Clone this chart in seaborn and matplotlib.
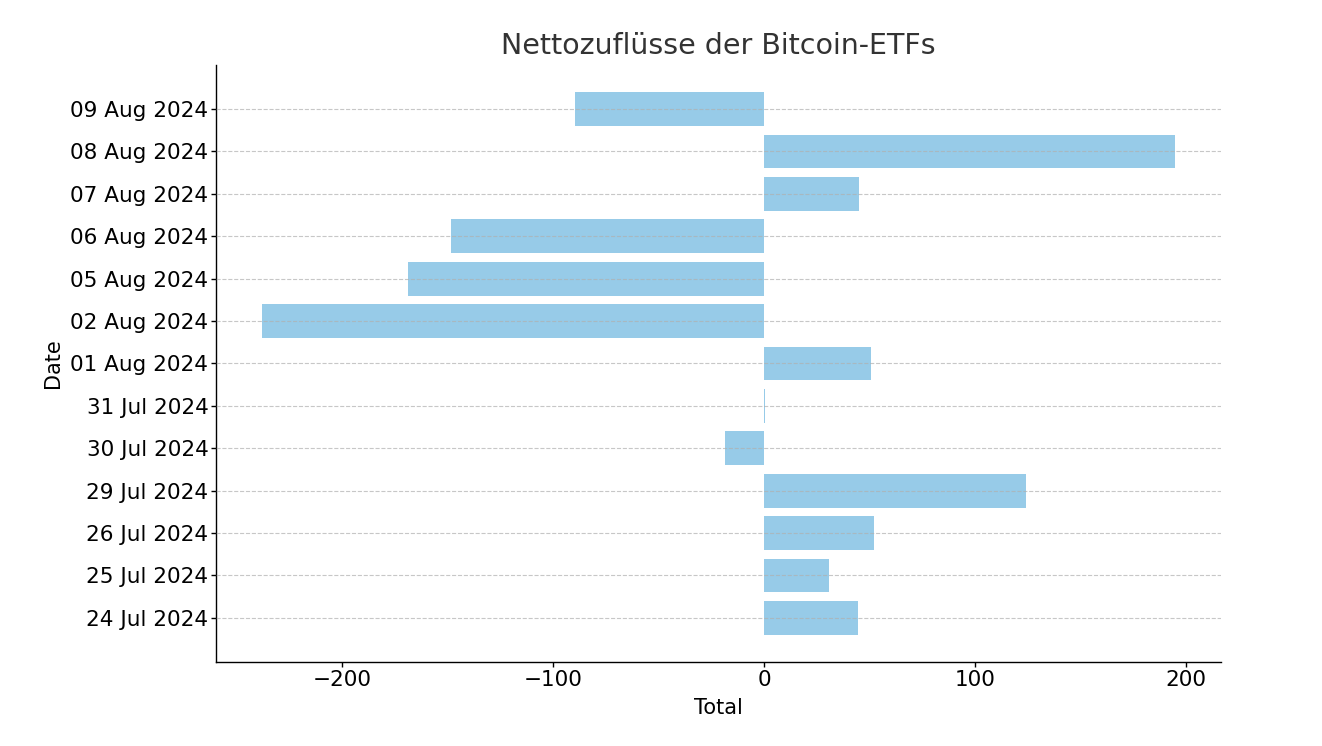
import matplotlib
matplotlib.use("Agg")
import matplotlib.pyplot as plt
import seaborn as sns
import pandas as pd

dates = ["24 Jul 2024", "25 Jul 2024", "26 Jul 2024", "29 Jul 2024", "30 Jul 2024",
         "31 Jul 2024", "01 Aug 2024", "02 Aug 2024", "05 Aug 2024", "06 Aug 2024",
         "07 Aug 2024", "08 Aug 2024", "09 Aug 2024"]
totals = [44.5, 30.8, 52.1, 124.2, -18.5, 0.6, 50.7, -237.9, -168.7, -148.3, 45.0, 194.8, -89.7]

df = pd.DataFrame({"Date": dates, "Total": totals})
order = dates[::-1]

sns.set_style("white")
plt.rcParams['font.family'] = ['DejaVu Sans']

fig = plt.figure(figsize=(13.22, 7.46), dpi=100)
ax = fig.add_axes([0.1634, 0.1126, 0.7602, 0.8003])

sns.barplot(data=df, x="Total", y="Date", order=order, orient="h",
            color="#97CBE8", saturation=1, width=0.8, linewidth=0, ax=ax, zorder=1)

ax.set_ylim(len(dates) - 1 + 1.04, -1.04)
ax.margins(x=0.05)
ax.grid(axis="y", linestyle="--", color="#b0b0b0", alpha=0.7, linewidth=0.8, zorder=3)
ax.set_axisbelow(False)
for s in ["top", "right"]:
    ax.spines[s].set_visible(False)
for s in ["left", "bottom"]:
    ax.spines[s].set_color("black")
    ax.spines[s].set_linewidth(1.0)
ax.tick_params(axis="both", which="both", length=3.5, pad=2, width=1, color="black",
               labelcolor="black", labelsize=15.5, direction="out", left=True, bottom=True)
ax.set_xticks([-200, -100, 0, 100, 200])
ax.set_xticklabels(["\u2212200", "\u2212100", "0", "100", "200"])
ax.set_xlabel("Total", fontsize=15, color="black", labelpad=6)
ax.set_ylabel("Date", fontsize=15, color="black", labelpad=5)
ax.set_title("Nettozuflüsse der Bitcoin-ETFs", fontsize=20.5, color="#333333", pad=8)

fig.savefig("out.png", dpi=100)
